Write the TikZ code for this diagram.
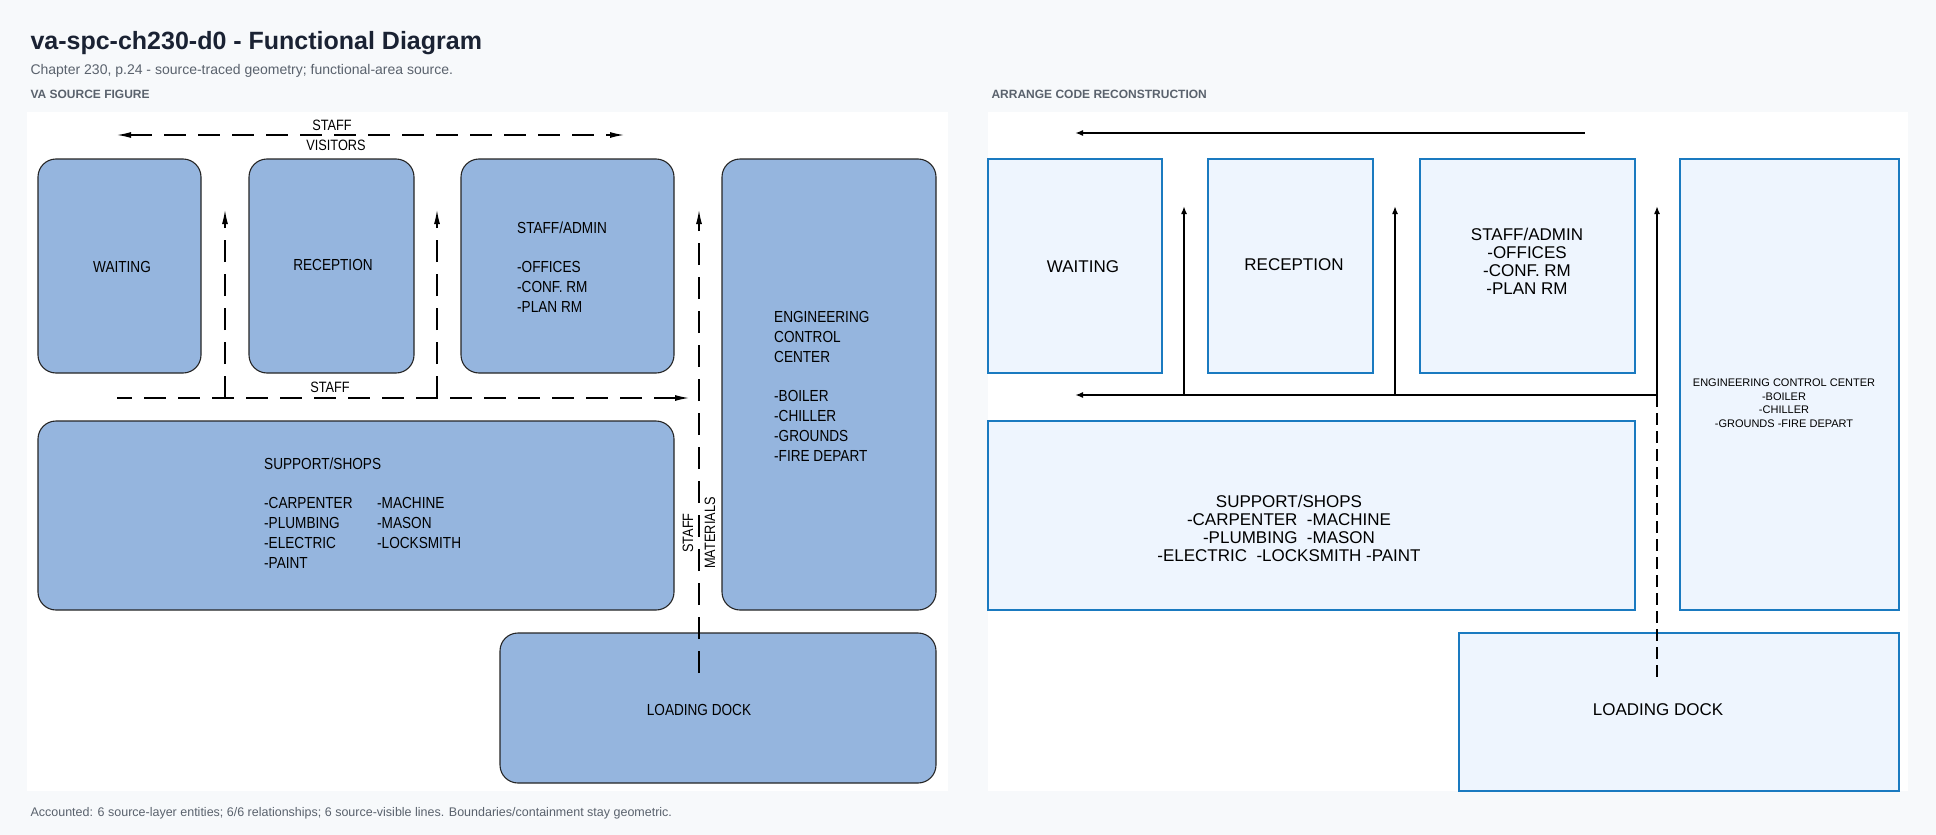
\documentclass[tikz,border=0pt]{standalone}
\usepackage{fontspec}
\setmainfont{Liberation Sans}
\newfontfamily\narrow[FakeStretch=0.85]{Liberation Sans}
\usetikzlibrary{arrows.meta}
\definecolor{bg}{HTML}{F7F9FB}
\definecolor{srcfill}{HTML}{95B5DE}
\definecolor{recfill}{HTML}{EEF5FE}
\definecolor{recline}{HTML}{1A7AC0}
\definecolor{ttl}{HTML}{1A2233}
\definecolor{sub}{HTML}{5A626D}
\begin{document}
\begin{tikzpicture}[x=1pt,y=-1pt,
 src/.style={draw=black!85,line width=1.1pt,fill=srcfill,rounded corners=18pt},
 rec/.style={draw=recline,line width=2.5pt,fill=recfill},
 st/.style={font=\narrow\fontsize{16}{20}\selectfont,align=left,inner sep=0},
 rt/.style={font=\fontsize{17}{18}\selectfont,align=center,inner sep=0},
 dsh/.style={line width=1.3pt,dash pattern=on 22pt off 12pt},
 sarr/.style={-{Latex[length=14pt,width=6pt]}},
 rarr/.style={line width=2.2pt,-{Latex[length=8pt,width=6pt]}},
 lbl/.style={font=\narrow\fontsize{15}{17}\selectfont,fill=white,inner sep=1pt}]
\useasboundingbox (0,0) rectangle (1936,835);
\fill[bg] (0,0) rectangle (1936,835);
\node[anchor=west,font=\bfseries\fontsize{25}{28}\selectfont,text=ttl] (title) at (27,43) {va-spc-ch230-d0 - Functional Diagram};
\node[anchor=west,font=\fontsize{14}{16}\selectfont,text=sub] (subt) at (27,71) {Chapter 230, p.24 - source-traced geometry; functional-area source.};
\node[anchor=west,font=\bfseries\fontsize{12}{14}\selectfont,text=sub] (h1) at (27,94) {VA SOURCE FIGURE};
\node[anchor=west,font=\bfseries\fontsize{12}{14}\selectfont,text=sub] (h2) at (988,94) {ARRANGE CODE RECONSTRUCTION};
\node[anchor=west,font=\fontsize{12.5}{14}\selectfont,text=sub] (foot) at (27,813) {Accounted: 6 source-layer entities; 6/6 relationships; 6 source-visible lines. Boundaries/containment stay geometric.};
\fill[white] (27,112) rectangle (948,791);
\fill[white] (988,112) rectangle (1908,791);
% ---- left source figure
\draw[src] (38,159) rectangle (201,373);
\draw[src] (249,159) rectangle (414,373);
\draw[src] (461,159) rectangle (674,373);
\draw[src] (722,159) rectangle (936,610);
\draw[src] (38,421) rectangle (674,610);
\draw[src] (500,633) rectangle (936,783);
\node[st] (lw) at (122,267) {WAITING};
\node[st] (lr) at (333,265) {RECEPTION};
\node[st,anchor=north west] (ls) at (517,222) {STAFF/ADMIN\\[19pt]-OFFICES\\-CONF. RM\\-PLAN RM};
\node[st,anchor=north west] (le) at (774,311) {ENGINEERING\\CONTROL\\CENTER\\[19pt]-BOILER\\-CHILLER\\-GROUNDS\\-FIRE DEPART};
\node[st,anchor=north west] (lsa) at (264,458) {SUPPORT/SHOPS\\[19pt]-CARPENTER\\-PLUMBING\\-ELECTRIC\\-PAINT};
\node[st,anchor=north west] (lsb) at (377,497) {-MACHINE\\-MASON\\-LOCKSMITH};
\node[st] (ll) at (699,710) {LOADING DOCK};
\coordinate (t1) at (117,135); \coordinate (t2) at (624,135);
\coordinate (b1) at (117,398); \coordinate (b2) at (689,398);
\coordinate (v1a) at (225,398); \coordinate (v1b) at (225,210);
\coordinate (v2a) at (437,398); \coordinate (v2b) at (437,210);
\coordinate (v3a) at (699,673); \coordinate (v3b) at (699,210);
\draw[dsh,{Latex[length=14pt,width=6pt]}-{Latex[length=14pt,width=6pt]}] (t1) -- (t2);
\draw[dsh,{Latex[length=14pt,width=6pt]}-] (b2) -- (b1);
\draw[dsh,sarr] (v1a) -- (v1b);
\draw[dsh,sarr] (v2a) -- (v2b);
\draw[dsh,sarr] (v3a) -- (v3b);
\node[lbl] (l1) at (332,125) {STAFF};
\node[lbl] (l2) at (336,145) {VISITORS};
\node[lbl,fill=none] (l3) at (330,387) {STAFF};
\node[lbl,rotate=90] (l4) at (688,533) {STAFF};
\node[lbl,rotate=90] (l5) at (710,533) {MATERIALS};
% ---- right reconstruction
\draw[rec] (988,159) rectangle (1162,373);
\draw[rec] (1208,159) rectangle (1373,373);
\draw[rec] (1420,159) rectangle (1635,373);
\draw[rec] (1680,159) rectangle (1899,610);
\draw[rec] (988,421) rectangle (1635,610);
\draw[rec] (1459,633) rectangle (1899,791);
\node[rt] (rw) at (1083,267) {WAITING};
\node[rt] (rr) at (1294,265) {RECEPTION};
\node[rt,anchor=north] (rs) at (1527,228) {STAFF/ADMIN\\-OFFICES\\-CONF. RM\\-PLAN RM};
\node[rt,anchor=north,font=\fontsize{11}{13.5}\selectfont] (re) at (1784,379) {ENGINEERING CONTROL CENTER\\-BOILER\\-CHILLER\\-GROUNDS -FIRE DEPART};
\node[rt,anchor=north] (rsu) at (1289,495) {SUPPORT/SHOPS\\-CARPENTER\ \ -MACHINE\\-PLUMBING\ \ -MASON\\-ELECTRIC\ \ -LOCKSMITH -PAINT};
\node[rt] (rl) at (1658,710) {LOADING DOCK};
\coordinate (rt1) at (1075,133); \coordinate (rt2) at (1585,133);
\coordinate (rb1) at (1075,395); \coordinate (rb2) at (1657,395);
\coordinate (rv1a) at (1184,395); \coordinate (rv1b) at (1184,206);
\coordinate (rv2a) at (1395,395); \coordinate (rv2b) at (1395,206);
\coordinate (rv3b) at (1657,206); \coordinate (rd) at (1657,677);
\draw[rarr,{Latex[length=8pt,width=6pt]}-] (rt1) -- (rt2);
\draw[rarr,{Latex[length=8pt,width=6pt]}-] (rb1) -- (rb2);
\draw[rarr] (rv1a) -- (rv1b);
\draw[rarr] (rv2a) -- (rv2b);
\draw[rarr] (rb2) -- (rv3b);
\draw[line width=2.2pt,dash pattern=on 12pt off 6pt] (rb2) -- (rd);
\end{tikzpicture}
\end{document}
